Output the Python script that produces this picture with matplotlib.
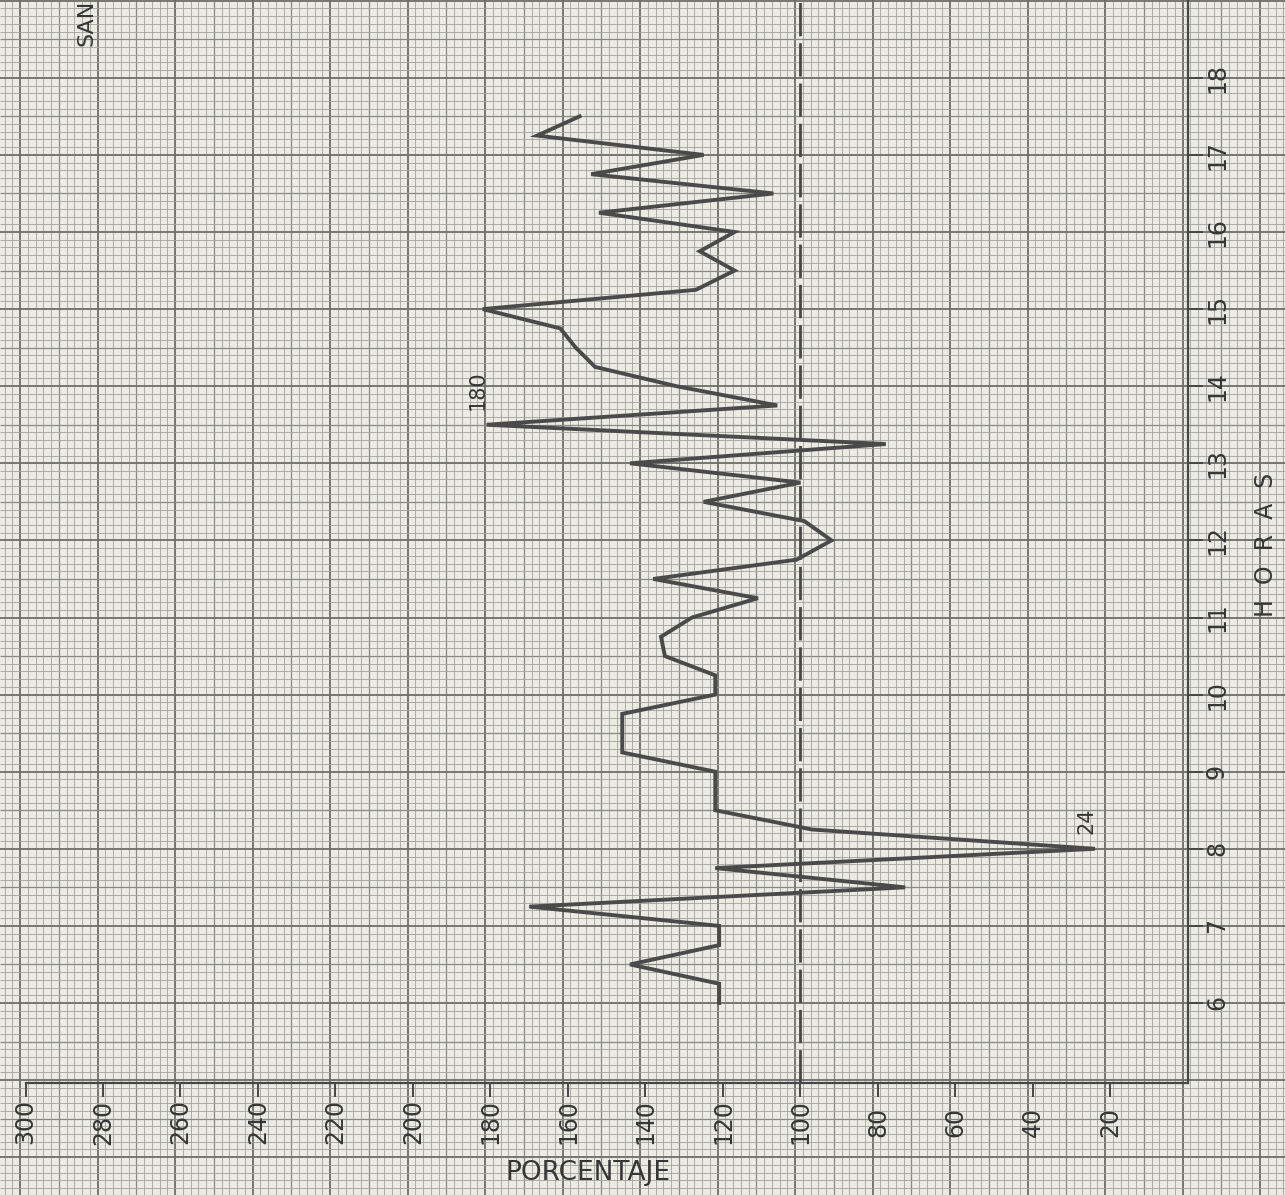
import numpy as np
import matplotlib.pyplot as plt

# hourly readings every quarter hour, value in percent
hours = [6.0, 6.25, 6.5, 6.75, 7.0, 7.25, 7.5, 7.75, 8.0, 8.25, 8.5, 8.75,
         9.0, 9.25, 9.5, 9.75, 10.0, 10.25, 10.5, 10.75, 11.0, 11.25, 11.5, 11.75,
         12.0, 12.25, 12.5, 12.75, 13.0, 13.25, 13.5, 13.75, 14.0, 14.25, 14.5, 14.75,
         15.0, 15.25, 15.5, 15.75, 16.0, 16.25, 16.5, 16.75, 17.0, 17.25, 17.5]
porcentaje = [121, 121, 144, 121, 121, 170, 73, 122, 24, 97, 122, 122,
              122, 146, 146, 146, 122, 122, 135, 136, 128, 111, 138, 101,
              92, 99, 125, 100, 144, 78, 181, 106, 132, 153, 158, 162,
              182, 127, 117, 126, 117, 152, 107, 154, 125, 168, 157]

pct_ticks = [20, 40, 60, 80, 100, 120, 140, 160, 180, 200, 220, 240, 260, 280, 300]
hour_ticks = [6, 7, 8, 9, 10, 11, 12, 13, 14, 15, 16, 17, 18]
reference = 100
annotations = [("180", 181, 13.5), ("24", 24, 8.0)]

# chart is drawn on its side: percent runs right-to-left, hours bottom-to-top
X0, SX = 1188.0, 3.875      # px of 0 %, px per percent
Y6, SY = 1003.0, 77.1       # px of hour 6, px per hour
W, H = 1285, 1195
INK = "#363636"


def v_at(px):
    return (X0 - px) / SX


def h_at(py):
    return 6 + (Y6 - py) / SY


fig = plt.figure(figsize=(W / 100, H / 100), dpi=100)
fig.patch.set_facecolor("#ebebe4")
ax = fig.add_axes([0, 0, 1, 1])
ax.set_facecolor("#ebebe4")
ax.set_xlim(v_at(0), v_at(W))
ax.set_ylim(h_at(H), h_at(0))
ax.axis("off")

# graph paper
vmin, vmax = v_at(W), v_at(0)
hmin, hmax = h_at(H), h_at(0)


def paper_style(k):
    if k % 10 == 0:
        return "#6e6e6a", 1.3
    if k % 5 == 0:
        return "#8a8a85", 0.9
    return "#a2a29c", 0.6


for k in range(-70, 110):
    x = 101.4 + 2 * k
    if vmin - 2 <= x <= vmax + 2:
        c, lw = paper_style(k)
        ax.vlines(x, hmin, hmax, color=c, lw=lw, zorder=1)
for k in range(-30, 140):
    y = 6 + 0.1 * k
    if hmin - 0.1 <= y <= hmax + 0.1:
        c, lw = paper_style(k)
        ax.hlines(y, vmin, vmax, color=c, lw=lw, zorder=1)

# axes of the drawing
axis_h = h_at(1083)
ax.plot([0, 0], [axis_h, hmax + 0.1], color="#474747", lw=1.6, zorder=3)
ax.plot([0, 300], [axis_h, axis_h], color="#474747", lw=1.6, zorder=3)
for t in pct_ticks:
    ax.plot([t, t], [axis_h, h_at(1096)], color="#474747", lw=1.4, zorder=3)
    ax.text(t, h_at(1122), str(t), rotation=90, ha="center", va="center",
            fontsize=17, color=INK, zorder=4)
for t in hour_ticks:
    ax.plot([0, v_at(1202)], [t, t], color="#474747", lw=1.4, zorder=3)
    ax.text(v_at(1217), t, str(t), rotation=90, ha="center", va="center",
            fontsize=17, color=INK, zorder=4)

ax.text(v_at(1266), h_at(545), "H  O  R  A  S", rotation=90, ha="center",
        va="center", fontsize=17, color=INK, zorder=4)
ax.text(v_at(588), h_at(1173), "PORCENTAJE", ha="center", va="center",
        fontsize=19, color=INK, zorder=4)
ax.text(v_at(86), h_at(46), "SAN", rotation=90, ha="center", va="bottom",
        fontsize=16, color=INK, zorder=4)

# reference line at 100 %
ax.plot([reference, reference], [axis_h, hmax + 0.1], color="#474747", lw=2.0,
        dashes=(12, 2.5), zorder=3)

# the trace
ax.plot(porcentaje, hours, color="#4a4a4a", lw=2.8, solid_joinstyle="miter",
        zorder=5)

for label, v, h in annotations:
    ax.text(v + 2.2, h + 0.19, label, rotation=90, ha="center", va="bottom",
            fontsize=15, color=INK, zorder=6)

fig.savefig("out.png", dpi=100, facecolor=fig.get_facecolor())
